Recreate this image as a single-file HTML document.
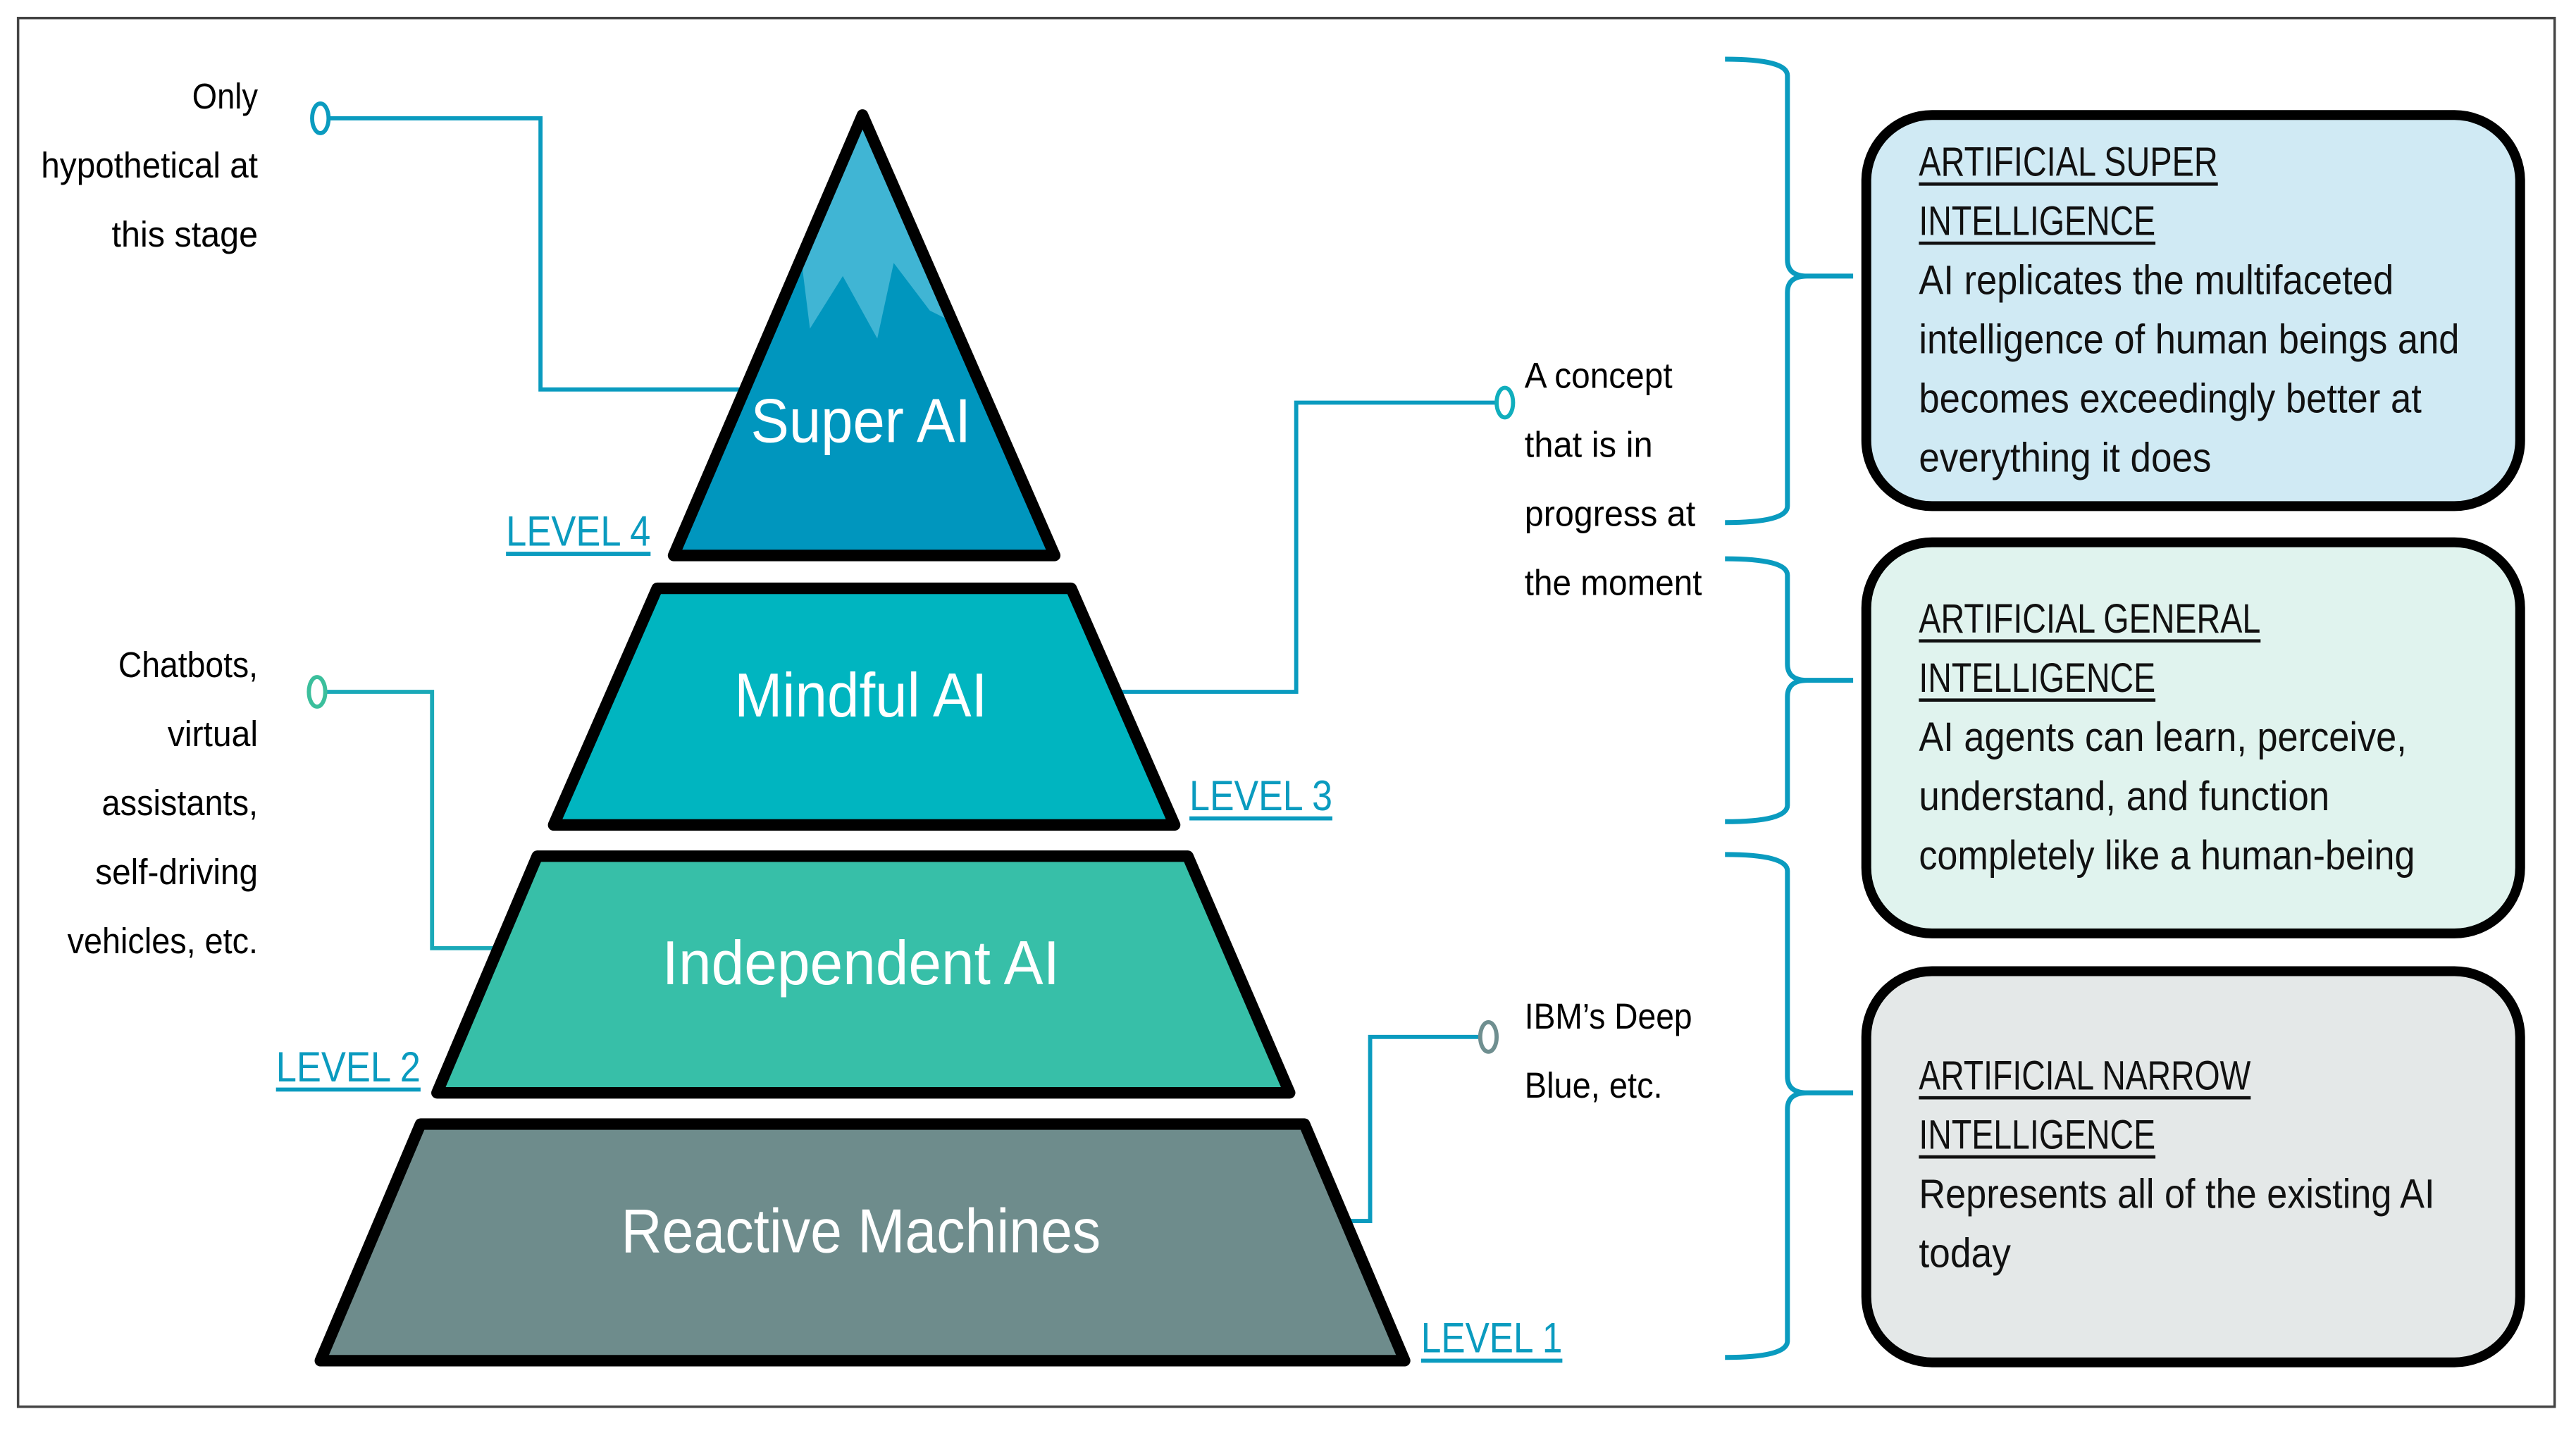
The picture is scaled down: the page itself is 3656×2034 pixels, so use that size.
<!DOCTYPE html>
<html><head><meta charset="utf-8"><style>
html,body{margin:0;padding:0;background:#fff;}
svg{display:block;}
text{font-family:"Liberation Sans",sans-serif;}
</style></head><body>
<svg width="3656" height="2034" viewBox="0 0 1568 872" preserveAspectRatio="none" xmlns="http://www.w3.org/2000/svg">
<rect x="0" y="0" width="1568" height="872" fill="#fff"/>
<rect x="11" y="11" width="1544" height="845" fill="none" stroke="#444" stroke-width="1.5"/>

<!-- connectors -->
<g fill="none" stroke="#0a9bbf" stroke-width="2.5">
<polyline points="201,72 329,72 329,237 450,237"/>
<polyline points="199,421 263,421 263,577 302,577" stroke="#1aa9b8"/>
<polyline points="683,421 789,421 789,245 911,245"/>
<polyline points="820,743 834,743 834,631 901,631"/>
<ellipse cx="195" cy="72" rx="5" ry="9" fill="#fff"/>
<ellipse cx="916" cy="245" rx="5" ry="9" fill="#fff" stroke="#10aebd"/>
<ellipse cx="906" cy="631" rx="5" ry="9" fill="#fff" stroke="#6f8f90"/>
</g>
<ellipse cx="193" cy="421" rx="5" ry="9" fill="#fff" stroke="#3bbf9c" stroke-width="2.5"/>

<!-- pyramid -->
<polygon points="525,70 410,338 642,338" fill="#0096be"/>
<polygon points="525,74 488,160 493,200 513,168 534,206 544,160 566,189 580,196" fill="#40b5d4"/>
<g stroke="#000" stroke-width="7" stroke-linejoin="round">
<polygon points="525,70 410,338 642,338" fill="none"/>
<polygon points="400,358 652,358 715,502 337,502" fill="#00b5c0"/>
<polygon points="327,521 723,521 785,665 266,665" fill="#37bfa8"/>
<polygon points="256,684 794,684 855,828 195,828" fill="#6e8c8c"/>
</g>

<g fill="#fff" font-size="38" text-anchor="middle">
<text x="524" y="269" textLength="134" lengthAdjust="spacingAndGlyphs">Super AI</text>
<text x="524" y="436" textLength="154" lengthAdjust="spacingAndGlyphs">Mindful AI</text>
<text x="524" y="599" textLength="242" lengthAdjust="spacingAndGlyphs">Independent AI</text>
<text x="524" y="762" textLength="292" lengthAdjust="spacingAndGlyphs">Reactive Machines</text>
</g>

<!-- levels -->
<g fill="#0a9bbf" font-size="26">
<text x="308" y="332" textLength="88" lengthAdjust="spacingAndGlyphs">LEVEL 4</text>
<text x="724" y="493" textLength="87" lengthAdjust="spacingAndGlyphs">LEVEL 3</text>
<text x="168" y="658" textLength="88" lengthAdjust="spacingAndGlyphs">LEVEL 2</text>
<text x="865" y="823" textLength="86" lengthAdjust="spacingAndGlyphs">LEVEL 1</text>
</g>
<g stroke="#0a9bbf" stroke-width="2.5">
<line x1="308" y1="337" x2="396" y2="337"/>
<line x1="724" y1="498" x2="811" y2="498"/>
<line x1="168" y1="663" x2="256" y2="663"/>
<line x1="865" y1="828" x2="951" y2="828"/>
</g>

<!-- side texts -->
<g fill="#000" font-size="22" text-anchor="end">
<text x="157" y="66" textLength="40" lengthAdjust="spacingAndGlyphs">Only</text>
<text x="157" y="108" textLength="132" lengthAdjust="spacingAndGlyphs">hypothetical at</text>
<text x="157" y="150" textLength="89" lengthAdjust="spacingAndGlyphs">this stage</text>
<text x="157" y="412" textLength="85" lengthAdjust="spacingAndGlyphs">Chatbots,</text>
<text x="157" y="454" textLength="55" lengthAdjust="spacingAndGlyphs">virtual</text>
<text x="157" y="496" textLength="95" lengthAdjust="spacingAndGlyphs">assistants,</text>
<text x="157" y="538" textLength="99" lengthAdjust="spacingAndGlyphs">self-driving</text>
<text x="157" y="580" textLength="116" lengthAdjust="spacingAndGlyphs">vehicles, etc.</text>
</g>
<g fill="#000" font-size="22">
<text x="928" y="236" textLength="90" lengthAdjust="spacingAndGlyphs">A concept</text>
<text x="928" y="278" textLength="78" lengthAdjust="spacingAndGlyphs">that is in</text>
<text x="928" y="320" textLength="104" lengthAdjust="spacingAndGlyphs">progress at</text>
<text x="928" y="362" textLength="108" lengthAdjust="spacingAndGlyphs">the moment</text>
<text x="928" y="626" textLength="102" lengthAdjust="spacingAndGlyphs">IBM’s Deep</text>
<text x="928" y="668" textLength="84" lengthAdjust="spacingAndGlyphs">Blue, etc.</text>
</g>

<!-- braces -->
<g fill="none" stroke="#0a9bbf" stroke-width="3">
<path d="M1050,36 Q1088,36 1088,46 L1088,158 Q1088,168 1100,168 L1128,168 M1100,168 Q1088,168 1088,178 L1088,308 Q1088,318 1050,318"/>
<path d="M1050,340 Q1088,340 1088,350 L1088,404 Q1088,414 1100,414 L1128,414 M1100,414 Q1088,414 1088,424 L1088,490 Q1088,500 1050,500"/>
<path d="M1050,520 Q1088,520 1088,530 L1088,655 Q1088,665 1100,665 L1128,665 M1100,665 Q1088,665 1088,675 L1088,816 Q1088,826 1050,826"/>
</g>

<!-- boxes -->
<g stroke="#000" stroke-width="6">
<rect x="1136" y="70" width="398" height="238" rx="40" fill="#d0eaf4"/>
<rect x="1136" y="330" width="398" height="238" rx="40" fill="#e0f3ee"/>
<rect x="1136" y="591" width="398" height="238" rx="40" fill="#e4e8e8"/>
</g>
<g fill="#111" font-size="25">
<text x="1168" y="107" textLength="182" lengthAdjust="spacingAndGlyphs">ARTIFICIAL SUPER</text>
<text x="1168" y="143" textLength="144" lengthAdjust="spacingAndGlyphs">INTELLIGENCE</text>
<text x="1168" y="179" textLength="289" lengthAdjust="spacingAndGlyphs">AI replicates the multifaceted</text>
<text x="1168" y="215" textLength="329" lengthAdjust="spacingAndGlyphs">intelligence of human beings and</text>
<text x="1168" y="251" textLength="306" lengthAdjust="spacingAndGlyphs">becomes exceedingly better at</text>
<text x="1168" y="287" textLength="178" lengthAdjust="spacingAndGlyphs">everything it does</text>

<text x="1168" y="385" textLength="208" lengthAdjust="spacingAndGlyphs">ARTIFICIAL GENERAL</text>
<text x="1168" y="421" textLength="144" lengthAdjust="spacingAndGlyphs">INTELLIGENCE</text>
<text x="1168" y="457" textLength="297" lengthAdjust="spacingAndGlyphs">AI agents can learn, perceive,</text>
<text x="1168" y="493" textLength="250" lengthAdjust="spacingAndGlyphs">understand, and function</text>
<text x="1168" y="529" textLength="302" lengthAdjust="spacingAndGlyphs">completely like a human-being</text>

<text x="1168" y="663" textLength="202" lengthAdjust="spacingAndGlyphs">ARTIFICIAL NARROW</text>
<text x="1168" y="699" textLength="144" lengthAdjust="spacingAndGlyphs">INTELLIGENCE</text>
<text x="1168" y="735" textLength="314" lengthAdjust="spacingAndGlyphs">Represents all of the existing AI</text>
<text x="1168" y="771" textLength="56" lengthAdjust="spacingAndGlyphs">today</text>
</g>
<g stroke="#111" stroke-width="2">
<line x1="1168" y1="112" x2="1350" y2="112"/>
<line x1="1168" y1="148" x2="1312" y2="148"/>
<line x1="1168" y1="390" x2="1376" y2="390"/>
<line x1="1168" y1="426" x2="1312" y2="426"/>
<line x1="1168" y1="668" x2="1370" y2="668"/>
<line x1="1168" y1="704" x2="1312" y2="704"/>
</g>
</svg>
</body></html>
